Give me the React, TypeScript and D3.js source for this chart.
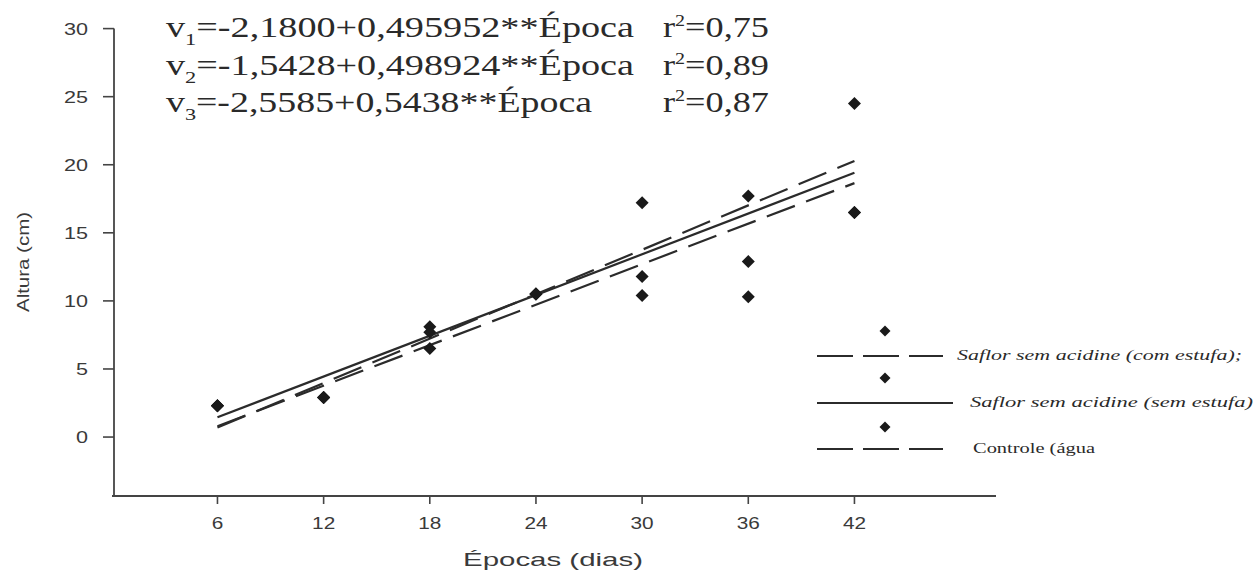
import React, { useEffect, useRef } from 'react';
import * as d3 from 'd3';

// Épocas de avaliação (dias)
const epocas = [6, 12, 18, 24, 30, 36, 42];

const comEstufa = [2.3, 2.9, 6.5, 10.5, 10.4, 12.9, 16.5];
const semEstufa = [2.3, 2.9, 7.7, 10.5, 11.8, 17.7, 24.5];
const controle = [2.3, 2.9, 8.1, 10.5, 17.2, 10.3, 16.5];

// Regressões: v = a + b * Época
const intercepts = [-2.18, -1.5428, -2.5585];
const slopes = [0.495952, 0.498924, 0.5438];
const r2Labels = ['0,75', '0,89', '0,87'];
const equationLabels = [
  ['1', '-2,1800+0,495952**Época'],
  ['2', '-1,5428+0,498924**Época'],
  ['3', '-2,5585+0,5438**Época'],
];

const yTicks = [0, 5, 10, 15, 20, 25, 30];
const legendLabels = [
  'Saflor sem acidine (com estufa);',
  'Saflor sem acidine (sem estufa)',
  'Controle (água',
];

const W = 1256;
const H = 574;
const INK = '#2b2b2b';

const App = () => {
  const svgRef = useRef<SVGSVGElement>(null);

  useEffect(() => {
    const svg = d3.select(svgRef.current);
    svg.selectAll('*').remove();

    const x = d3.scaleLinear().domain([0, 50]).range([111.3, 996]);
    const y = d3.scaleLinear().domain([-4.33, 30]).range([496, 28.6]);
    const axisX = 114;

    svg.append('rect').attr('width', W).attr('height', H).attr('fill', '#fff');

    // eixo Y
    svg.append('line')
      .attr('x1', axisX).attr('x2', axisX)
      .attr('y1', y(30)).attr('y2', y(-4.33))
      .attr('stroke', '#444').attr('stroke-width', 1.8);
    yTicks.forEach(t => {
      svg.append('line')
        .attr('x1', axisX - 11).attr('x2', axisX)
        .attr('y1', y(t)).attr('y2', y(t))
        .attr('stroke', '#444').attr('stroke-width', 1.6);
      svg.append('text')
        .attr('transform', `translate(88,${y(t) + 6}) scale(1.35,1)`)
        .attr('text-anchor', 'end')
        .attr('font-family', 'Liberation Sans, Arial, sans-serif')
        .attr('font-size', 16)
        .attr('fill', '#3a3a3a')
        .text(t);
    });

    // eixo X
    svg.append('line')
      .attr('x1', axisX - 2).attr('x2', x(50))
      .attr('y1', y(-4.33)).attr('y2', y(-4.33))
      .attr('stroke', '#444').attr('stroke-width', 1.8);
    epocas.forEach(t => {
      svg.append('line')
        .attr('x1', x(t)).attr('x2', x(t))
        .attr('y1', y(-4.33)).attr('y2', y(-4.33) + 8)
        .attr('stroke', '#444').attr('stroke-width', 1.6);
      svg.append('text')
        .attr('transform', `translate(${x(t)},${529}) scale(1.3,1)`)
        .attr('text-anchor', 'middle')
        .attr('font-family', 'Liberation Sans, Arial, sans-serif')
        .attr('font-size', 16)
        .attr('fill', '#3a3a3a')
        .text(t);
    });

    // títulos dos eixos
    svg.append('text')
      .attr('x', 553).attr('y', 566)
      .attr('text-anchor', 'middle')
      .attr('font-family', 'Liberation Sans, Arial, sans-serif')
      .attr('font-size', 18)
      .attr('fill', '#3a3a3a')
      .attr('textLength', 180)
      .attr('lengthAdjust', 'spacingAndGlyphs')
      .text('Épocas (dias)');
    svg.append('text')
      .attr('transform', 'translate(29,262) rotate(-90)')
      .attr('text-anchor', 'middle')
      .attr('font-family', 'Liberation Sans, Arial, sans-serif')
      .attr('font-size', 16)
      .attr('fill', '#3a3a3a')
      .attr('textLength', 100)
      .attr('lengthAdjust', 'spacingAndGlyphs')
      .text('Altura (cm)');

    // retas de regressão
    const dashes = ['30,12', null, '30,12'];
    const line = d3.line<number>().x(d => x(d)).y((d, i, arr) => 0);
    intercepts.forEach((a, k) => {
      const b = slopes[k];
      const xs = [epocas[0], epocas[epocas.length - 1]];
      svg.append('path')
        .attr('d', d3.line<number>().x(d => x(d)).y(d => y(a + b * d))(xs))
        .attr('fill', 'none')
        .attr('stroke', INK)
        .attr('stroke-width', 2.2)
        .attr('stroke-dasharray', dashes[k]);
    });
    void line;

    // pontos
    const diamond = (cx: number, cy: number, r: number) =>
      `M${cx},${cy - r}L${cx + r},${cy}L${cx},${cy + r}L${cx - r},${cy}Z`;
    [comEstufa, semEstufa, controle].forEach(series => {
      series.forEach((v, i) => {
        svg.append('path')
          .attr('d', diamond(x(epocas[i]), y(v), 6.5))
          .attr('fill', '#1a1a1a');
      });
    });

    // equações
    equationLabels.forEach(([sub, eq], i) => {
      const base = [37, 75, 112][i];
      const t = svg.append('text')
        .attr('x', 166).attr('y', base)
        .attr('font-family', 'Liberation Serif, Times New Roman, serif')
        .attr('font-size', 29)
        .attr('fill', '#2a2a2a')
        .attr('textLength', i === 2 ? 426 : 468)
        .attr('lengthAdjust', 'spacingAndGlyphs');
      t.append('tspan').text('v');
      t.append('tspan').attr('font-size', 17).attr('dy', 8).text(sub);
      t.append('tspan').attr('dy', -8).text('=' + eq);

      const r = svg.append('text')
        .attr('x', 663).attr('y', base)
        .attr('font-family', 'Liberation Serif, Times New Roman, serif')
        .attr('font-size', 29)
        .attr('fill', '#2a2a2a')
        .attr('textLength', 106)
        .attr('lengthAdjust', 'spacingAndGlyphs');
      r.append('tspan').text('r');
      r.append('tspan').attr('font-size', 16).attr('dy', -11).text('2');
      r.append('tspan').attr('dy', 11).text('=' + r2Labels[i]);
    });

    // legenda
    const legDiamondY = [331, 378, 427];
    const legLineY = [356, 403, 449];
    const legLineEnd = [943, 953, 943];
    const legTextX = [957, 970, 973];
    const legTextW = [285, 283, 122];
    legendLabels.forEach((label, i) => {
      svg.append('path')
        .attr('d', diamond(885, legDiamondY[i], 5.5))
        .attr('fill', '#1a1a1a');
      svg.append('line')
        .attr('x1', 817).attr('x2', legLineEnd[i])
        .attr('y1', legLineY[i]).attr('y2', legLineY[i])
        .attr('stroke', INK)
        .attr('stroke-width', 2)
        .attr('stroke-dasharray', dashes[i] ? '36,10' : null);
      svg.append('text')
        .attr('x', legTextX[i]).attr('y', legLineY[i] + 4)
        .attr('font-family', 'Liberation Serif, Times New Roman, serif')
        .attr('font-size', 14)
        .attr('font-style', i < 2 ? 'italic' : 'normal')
        .attr('fill', '#2a2a2a')
        .attr('textLength', legTextW[i])
        .attr('lengthAdjust', 'spacingAndGlyphs')
        .text(label);
    });
  }, []);

  return (
    <svg
      ref={svgRef}
      width={W}
      height={H}
      style={{ position: 'absolute', left: 0, top: 0 }}
    />
  );
};

export default App;
